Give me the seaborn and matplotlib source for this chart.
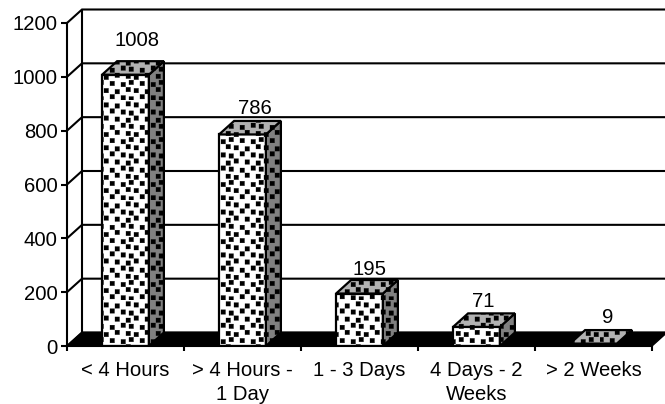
#!/usr/bin/env python3

import numpy as np
import pandas as pd
import matplotlib
matplotlib.use("Agg")
import matplotlib.pyplot as plt
import matplotlib.hatch as mhatch
from matplotlib.path import Path
from matplotlib.patches import Polygon
import seaborn as sns

categories = ["< 4 Hours", "> 4 Hours -\n1 Day", "1 - 3 Days", "4 Days - 2\nWeeks", "> 2 Weeks"]
counts = [1008, 786, 195, 71, 9]
y_ticks = [0, 200, 400, 600, 800, 1000, 1200]

# label nudges in px, the first one sits higher in the original
label_dx = [12, 12, 10, 7, 14]
label_dy = [21, 12, 11, 12, 13]


class SquareDots(mhatch.HatchPatternBase):
    """Staggered small black squares, stands in for the Excel dotted fill"""
    filled = True

    def __init__(self, hatch, density):
        self.rows = 14 if '*' in hatch else 0
        self.cols = 10
        self.num_vertices = self.rows * self.cols * 5

    def set_vertices_and_codes(self, vertices, codes):
        s = 0.045
        i = 0
        for r in range(self.rows):
            for c in range(self.cols):
                x = (c + 0.5 * (r % 2) + 0.1 * ((r * 3 + c) % 3 - 1)) / self.cols
                y = (r + 0.15 * ((c * 2 + r) % 3 - 1)) / self.rows
                square = np.array([[x, y], [x, y + s], [x + s, y + s], [x + s, y], [x, y]])
                vertices[i:i + 5] = square
                codes[i:i + 5] = [Path.MOVETO, Path.LINETO, Path.LINETO, Path.LINETO, Path.CLOSEPOLY]
                i += 5


mhatch._hatch_types[:] = [SquareDots]

sns.set_theme(style="white")
plt.rcParams['font.family'] = ['Liberation Sans', 'DejaVu Sans']
plt.rcParams['hatch.linewidth'] = 0.2

W, H = 665, 404
FS = 14.6
AX_W, AX_H = 585, 323
fig = plt.figure(figsize=(W / 100, H / 100), dpi=100)
ax = fig.add_axes([67 / W, (H - 346) / H, AX_W / W, AX_H / H])

df = pd.DataFrame({"category": categories, "count": counts})
sns.barplot(data=df, x="category", y="count", color="white", saturation=1, width=0.4,
            edgecolor="black", linewidth=1.6, hatch="*", ax=ax, zorder=3)

ax.set_xlim(-0.5, 4.5)
ax.set_ylim(0, 1200)
ax.set_xlabel("")
ax.set_ylabel("")

# depth of the fake 3D box in data units
dx = 15 / (AX_W / 5)
dy = 13.5 / (AX_H / 1200)

# back wall and gridlines
for v in y_ticks:
    ax.plot([-0.5, -0.5 + dx, 4.5 + dx], [v, v + dy, v + dy], color="black", lw=1.5,
            clip_on=False, zorder=1, solid_joinstyle="miter")
ax.plot([-0.5 + dx, -0.5 + dx], [dy, 1200 + dy], color="black", lw=1.5, clip_on=False, zorder=1)

# black floor
ax.add_patch(Polygon([(-0.5, 0), (-0.5 + dx, dy), (4.5 + dx, dy), (4.5, 0)], closed=True,
                     facecolor="black", edgecolor="black", clip_on=False, zorder=2))

for bar, dxl, dyl in zip(ax.patches[:len(counts)], label_dx, label_dy):
    x0, w, h = bar.get_x(), bar.get_width(), bar.get_height()
    x1 = x0 + w
    side = Polygon([(x1, 0), (x1 + dx, dy), (x1 + dx, h + dy), (x1, h)], closed=True,
                   facecolor="#808080", edgecolor="black", lw=1.6, hatch="*", clip_on=False, zorder=3)
    top = Polygon([(x0, h), (x0 + dx, h + dy), (x1 + dx, h + dy), (x1, h)], closed=True,
                  facecolor="#b2b2b2", edgecolor="black", lw=1.6, hatch="*", clip_on=False, zorder=3)
    ax.add_patch(side)
    ax.add_patch(top)
    ax.annotate(f"{h:.0f}", (x0 + w / 2, h + dy), xytext=(dxl * 0.72, dyl * 0.72),
                textcoords="offset points", ha="center", va="center", fontsize=FS,
                color="black", annotation_clip=False, zorder=5)

for side_name in ["top", "right"]:
    ax.spines[side_name].set_visible(False)
for side_name in ["left", "bottom"]:
    ax.spines[side_name].set_color("black")
    ax.spines[side_name].set_linewidth(1.5)
    ax.spines[side_name].set_zorder(4)

ax.set_yticks(y_ticks)
ax.set_xticks(np.arange(-0.5, 5), minor=True)
ax.tick_params(axis="y", which="major", left=True, length=4.3, width=1.5, color="black",
               labelsize=FS, labelcolor="black", pad=2.5)
ax.tick_params(axis="x", which="major", bottom=False, labelsize=FS, labelcolor="black", pad=5)
ax.tick_params(axis="x", which="minor", bottom=True, length=3.5, width=1.5, color="black")
for lab in ax.get_xticklabels():
    lab.set_linespacing(1.3)

fig.savefig("out.png", dpi=100, facecolor="white")
plt.close(fig)
